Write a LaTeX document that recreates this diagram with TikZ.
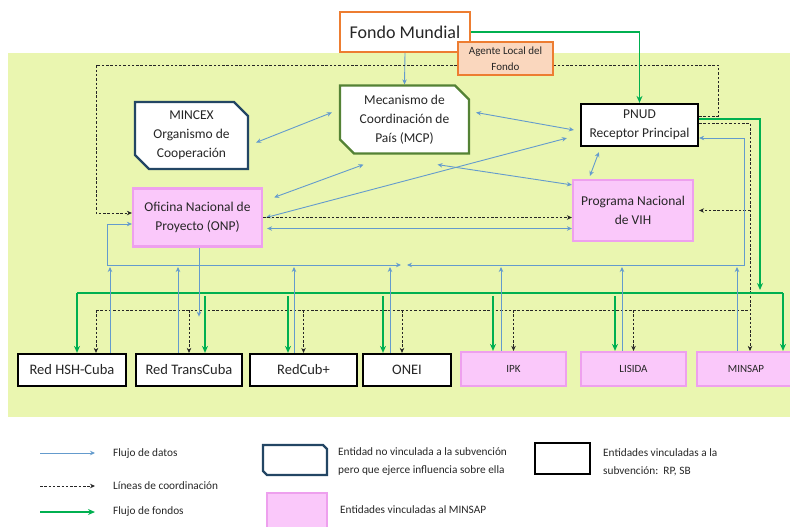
\documentclass[tikz,border=0pt]{standalone}
\usepackage{fontspec}
\setmainfont{Carlito}
\usetikzlibrary{arrows.meta,shapes.misc,calc}

\definecolor{bggreen}{RGB}{234,246,176}
\definecolor{datablue}{RGB}{100,155,205}
\definecolor{fundgreen}{RGB}{0,176,80}
\definecolor{pinkfill}{RGB}{250,200,250}
\definecolor{pinkline}{RGB}{238,160,238}
\definecolor{orangeline}{RGB}{237,125,49}
\definecolor{peach}{RGB}{250,215,190}
\definecolor{navyline}{RGB}{35,70,100}
\definecolor{olivegreen}{RGB}{84,130,53}
\definecolor{txt}{RGB}{38,38,38}

\pgfdeclarelayer{back}
\pgfdeclarelayer{edges}
\pgfsetlayers{back,edges,main}

\begin{document}
\begin{tikzpicture}[x=1pt,y=-1pt,
  box/.style={draw, align=center, inner sep=2pt, text=txt, font=\fontsize{13.5}{19}\selectfont},
  rp/.style={box, draw=black, line width=2.2pt, fill=white},
  minsapbox/.style={box, draw=pinkline, line width=2.2pt, fill=pinkfill},
  chamf/.style={box, chamfered rectangle, chamfered rectangle corners={north east,south west},
    chamfered rectangle xsep=7pt, chamfered rectangle ysep=7pt, line width=2.2pt, fill=white},
  bottomtext/.style={font=\fontsize{14.5}{17}\selectfont},
  smalltext/.style={font=\fontsize{11}{14}\selectfont},
  legtext/.style={font=\fontsize{11.3}{18}\selectfont, align=left, inner sep=0pt, text=txt},
  tipdata/.tip={Stealth[length=5pt,width=4.5pt]},
  dataline/.style={draw=datablue, line width=0.9pt},
  dataarrow/.style={dataline, -{Stealth[length=5pt,width=4.5pt]}},
  databoth/.style={dataline, {Stealth[length=5pt,width=4.5pt]}-{Stealth[length=5pt,width=4.5pt]}},
  coordline/.style={draw=black!85, line width=0.8pt, dash pattern=on 2.5pt off 1.8pt},
  coordarrow/.style={coordline, -{Stealth[length=5pt,width=4.5pt]}},
  fundline/.style={draw=fundgreen, line width=1.8pt},
  fundarrow/.style={fundline, -{Stealth[length=7pt,width=6pt]}}
]
\useasboundingbox (0,0) rectangle (790,527);

\begin{pgfonlayer}{back}
  \fill[bggreen] (8,53) rectangle (795,417);
\end{pgfonlayer}

% ---------- nodes ----------
\node[box, draw=orangeline, line width=2.2pt, fill=white, minimum width=130pt, minimum height=40pt,
      font=\fontsize{18}{20}\selectfont] (fondo) at (405,32) {Fondo Mundial};
\node[box, draw=orangeline, line width=1.8pt, fill=peach, minimum width=95pt, minimum height=33pt,
      font=\fontsize{11}{16}\selectfont] (agente) at (505.5,58.5) {Agente Local del\\Fondo};

\node[chamf, draw=navyline, minimum width=113pt, minimum height=62pt] (mincex) at (191.5,135.5)
  {MINCEX\\Organismo de\\Cooperación};
\node[chamf, draw=olivegreen, minimum width=129pt, minimum height=68pt] (mcp) at (404.5,119.5)
  {Mecanismo de\\Coordinación de\\País (MCP)};
\node[rp, minimum width=117pt, minimum height=42pt] (pnud) at (639.5,125)
  {PNUD\\Receptor Principal};
\node[minsapbox, minimum width=129pt, minimum height=58pt] (onp) at (197.5,217.5)
  {Oficina Nacional de\\Proyecto (ONP)};
\node[minsapbox, minimum width=120pt, minimum height=61pt] (pnv) at (633,210.5)
  {Programa Nacional\\de VIH};

\node[rp, bottomtext, minimum width=108pt, minimum height=32pt] (hsh) at (72,370) {Red HSH-Cuba};
\node[rp, bottomtext, minimum width=106pt, minimum height=32pt] (trans) at (189,370) {Red TransCuba};
\node[rp, bottomtext, minimum width=107pt, minimum height=32pt] (redcub) at (303.5,370) {RedCub+};
\node[rp, bottomtext, minimum width=88pt, minimum height=32pt] (onei) at (407,370) {ONEI};
\node[minsapbox, smalltext, minimum width=105pt, minimum height=34pt] (ipk) at (513.5,369) {IPK};
\node[minsapbox, smalltext, minimum width=105pt, minimum height=34pt] (lisida) at (633.5,369) {LISIDA};
\node[minsapbox, smalltext, minimum width=98pt, minimum height=34pt] (minsap) at (746,369) {MINSAP};

% ---------- connectors ----------
\begin{pgfonlayer}{edges}
% data flows among central nodes
\draw[dataarrow] (fondo.south) -- (mcp.north);
\draw[databoth] ($(mincex.east)+(7,7)$) -- ($(mcp.west)+(-7,-7)$);
\draw[databoth] ($(mcp.east)+(6,-7)$) -- ($(pnud.west)+(-6,5)$);
\draw[databoth] ($(onp.north east)+(11,10)$) -- ($(mcp.south)+(-41,10)$);
\draw[databoth] ($(onp.east)+(3,0)$) -- ($(pnud.south west)+(-13,-9)$);
\draw[databoth] ($(mcp.south)+(33,10)$) -- ($(pnv.north west)+(0,6)$);
\draw[databoth] ($(pnv.north west)+(18,-3)$) -- ($(pnud.south west)+(19,5)$);
\draw[coordarrow] (onp.east) -- (onp.east -| pnv.west);
\draw[databoth, shorten <=4pt] ([yshift=-11pt]onp.east) -- ([yshift=-11pt]onp.east -| pnv.west);

% top coordination loop
\coordinate (tr) at (718,65);
\coordinate (tl) at (96,65);
\coordinate (tlb) at (96,213);
\draw[coordarrow] ([yshift=9pt]pnud.east) -| (tr) -- (tl) -- (tlb) -- (tlb -| onp.west);

% right coordination trunk
\coordinate (rx) at (750,0);
\coordinate (dl) at (96,310);
\coordinate (dr) at (750,310);
\draw[coordarrow] ([yshift=2pt]pnud.east) -| (rx |- minsap.north);
\draw[coordarrow, shorten >=5pt] (rx |- pnv.east) -- (pnv.east);
\draw[coordline] (dl) -- (dr);
\draw[coordarrow] (dl) -- (dl |- hsh.north);
\draw[coordarrow] (trans.north |- dl) -- (trans.north);
\draw[coordarrow] (redcub.north |- dl) -- (redcub.north);
\draw[coordarrow] ([xshift=-5pt]onei.north |- dl) -- ([xshift=-5pt]onei.north);
\draw[coordarrow] (ipk.north |- dl) -- (ipk.north);
\draw[coordarrow] (lisida.north |- dl) -- (lisida.north);

% fund flows
\coordinate (gx) at (760,290);
\coordinate (gl) at (77,293);
\coordinate (gr) at (783,293);
\coordinate (gs) at (0,296);
\draw[fundarrow] (fondo.east) -| (pnud.north);
\draw[fundarrow] ([yshift=6pt]pnud.east) -| (gx);
\draw[fundline] (gl) -- (gr);
\draw[fundarrow] (gl) -- (gl |- hsh.north);
\draw[fundarrow] (gr) -- (gr |- minsap.north);
\draw[fundarrow] ([xshift=16pt]trans.north |- gs) -- ([xshift=16pt]trans.north);
\draw[fundarrow] ([xshift=-15.5pt]redcub.north |- gs) -- ([xshift=-15.5pt]redcub.north);
\draw[fundarrow] ([xshift=-24pt]onei.north |- gs) -- ([xshift=-24pt]onei.north);
\draw[fundarrow] ([xshift=-20.5pt]ipk.north |- gs) -- ([xshift=-20.5pt]ipk.north);
\draw[fundarrow] ([xshift=-18.5pt]lisida.north |- gs) -- ([xshift=-18.5pt]lisida.north);

% data flows from the bottom entities
\coordinate (bl) at (107,265);
\coordinate (bm1) at (401,265);
\coordinate (bm2) at (407,265);
\coordinate (br) at (744,265);
\coordinate (bu) at (0,267);
\draw[databoth] (bm1) -- (bl) |- ([yshift=-6.5pt]onp.west);
\draw[databoth] (bm2) -- (br) |- ([yshift=-13pt]pnud.east);
\draw[dataarrow] ([xshift=38pt]hsh.north) -- ([xshift=38pt]hsh.north |- bu);
\draw[dataarrow] ([xshift=-11pt]trans.north) -- ([xshift=-11pt]trans.north |- bu);
\draw[dataarrow] ([xshift=-9.5pt]redcub.north) -- ([xshift=-9.5pt]redcub.north |- bu);
\draw[dataarrow] ([xshift=-17pt]onei.north) -- ([xshift=-17pt]onei.north |- bu);
\draw[dataarrow] ([xshift=-12.5pt]ipk.north) -- ([xshift=-12.5pt]ipk.north |- bu);
\draw[dataarrow] ([xshift=-11.5pt]lisida.north) -- ([xshift=-11.5pt]lisida.north |- bu);
\draw[dataarrow] ([xshift=-9pt]minsap.north) -- ([xshift=-9pt]minsap.north |- bu);
\draw[dataarrow] ([xshift=1.5pt]onp.south) -- ++(0,69);
\end{pgfonlayer}

% ---------- legend ----------
\coordinate (lb1) at (40,453);
\coordinate (lb2) at (95,453);
\coordinate (lc1) at (40,486);
\coordinate (lc2) at (95,486);
\coordinate (lf1) at (40,512);
\coordinate (lf2) at (95,512);
\draw[dataarrow] (lb1) -- (lb2);
\draw[coordarrow] (lc1) -- (lc2);
\draw[fundarrow] (lf1) -- (lf2);
\node[legtext, anchor=west] (ltb) at (113,454) {Flujo de datos};
\node[legtext, anchor=west] (ltc) at (113,486) {Líneas de coordinación};
\node[legtext, anchor=west] (ltf) at (113,512) {Flujo de fondos};

\node[chamf, draw=navyline, minimum width=64pt, minimum height=30pt,
      chamfered rectangle xsep=6pt, chamfered rectangle ysep=6pt] (lg1) at (295,460) {};
\node[legtext, anchor=west] (lt1) at (338,462) {Entidad no vinculada a la subvención\\pero que ejerce influencia sobre ella};
\node[minsapbox, minimum width=60pt, minimum height=40pt] (lg3) at (297,513) {};
\node[legtext, anchor=west] (lt3) at (340,510) {Entidades vinculadas al MINSAP};
\node[rp, minimum width=55pt, minimum height=31pt] (lg2) at (562.5,458.5) {};
\node[legtext, anchor=west] (lt2) at (603,462) {Entidades vinculadas a la\\subvención:\ \ RP, SB};
\end{tikzpicture}
\end{document}
